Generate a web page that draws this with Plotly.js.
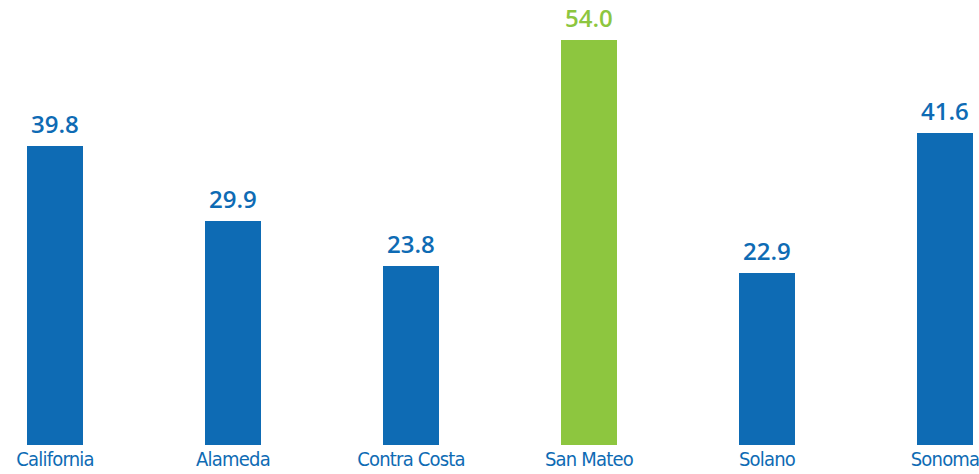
<!DOCTYPE html>
<html><head><meta charset="utf-8">
<script src="https://cdn.plot.ly/plotly-3.0.1.min.js"></script>
<style>html,body{margin:0;padding:0;background:#fff}#chart{width:979px;height:474px}
.xtick text{letter-spacing:-0.8px}</style>
</head><body><div id="chart"></div>
<script>
const categories = ["California", "Alameda", "Contra Costa", "San Mateo", "Solano", "Sonoma"];
const values = [39.8, 29.9, 23.8, 54.0, 22.9, 41.6];
const highlight = "San Mateo";
const BLUE = "#0E6BB4", GREEN = "#8DC63F";
const colors = categories.map(c => c === highlight ? GREEN : BLUE);

const trace = {
  type: "bar",
  x: categories,
  y: values,
  marker: {color: colors},
  width: 0.32,
  hoverinfo: "none"
};
const annotations = categories.map((c, i) => ({
  x: c, y: values[i], xref: "x", yref: "y",
  text: values[i].toFixed(1), showarrow: false,
  yanchor: "bottom", yshift: 4,
  font: {family: "Open Sans, sans-serif", size: 24, weight: 600, color: colors[i]}
}));
const layout = {
  width: 979, height: 474,
  margin: {l: 0, r: 0, t: 0, b: 29},
  paper_bgcolor: "#fff", plot_bgcolor: "#fff",
  showlegend: false,
  bargap: 0,
  xaxis: {
    range: [-0.309, 5.191], showgrid: false, zeroline: false, showline: false,
    ticks: "", tickfont: {family: "DejaVu Sans Condensed, DejaVu Sans, sans-serif", stretch: "condensed", size: 20, color: BLUE},
    ticklabelstandoff: 0
  },
  yaxis: {range: [0, 59.33], visible: false, showgrid: false, zeroline: false},
  annotations: annotations
};
Plotly.newPlot("chart", [trace], layout, {displayModeBar: false, staticPlot: true});
</script></body></html>
